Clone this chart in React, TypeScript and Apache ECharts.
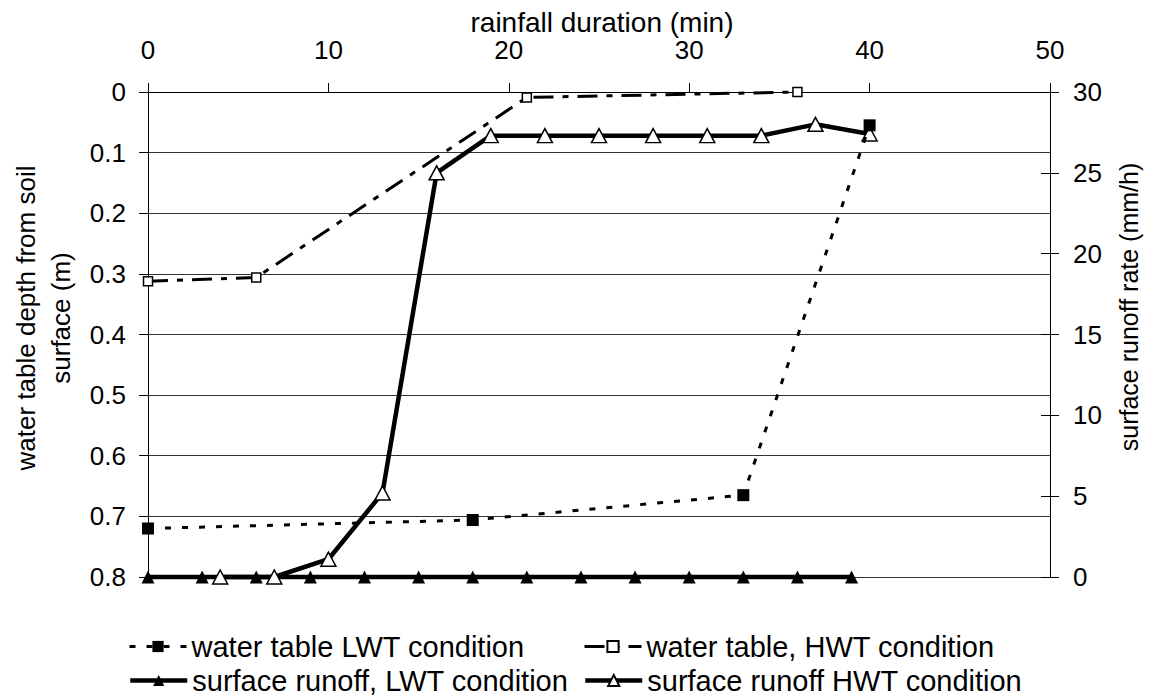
import React, { useEffect, useRef } from "react";
import * as echarts from "echarts";

// rainfall duration (min) and water table depth (m)
const wtLwtTime = [0, 18, 33, 40];
const wtLwtDepth = [0.72, 0.706, 0.665, 0.055];
const wtHwtTime = [0, 6, 21, 36];
const wtHwtDepth = [0.312, 0.306, 0.009, 0.0];
// surface runoff rate (mm/h)
const roLwtTime = [0, 3, 6, 9, 12, 15, 18, 21, 24, 27, 30, 33, 36, 39];
const roLwtRate = [0, 0, 0, 0, 0, 0, 0, 0, 0, 0, 0, 0, 0, 0];
const roHwtTime = [4, 7, 10, 13, 16, 19, 22, 25, 28, 31, 34, 37, 40];
const roHwtRate = [0, 0, 1.1, 5.2, 25, 27.3, 27.3, 27.3, 27.3, 27.3, 27.3, 28, 27.4];

const seriesNames = [
  "water table LWT condition",
  "water table, HWT condition",
  "surface runoff, LWT condition",
  "surface runoff HWT condition",
];
const xTitle = "rainfall duration (min)";
const yLeftTitle = "water table depth from soil\nsurface (m)";
const yRightTitle = "surface runoff rate (mm/h)";

const zip = (a: number[], b: number[]) => a.map((v, i) => [v, b[i]]);

const FONT = "Liberation Sans, Arial, sans-serif";

export default function App() {
  const ref = useRef<HTMLDivElement>(null);
  useEffect(() => {
    document.body.style.margin = "0";
    const chart = echarts.init(ref.current!, null, { renderer: "svg" });
    const tick = { fontFamily: FONT, fontSize: 26, color: "#000" };
    const legendText = { fontFamily: FONT, fontSize: 29, color: "#000" };
    const legendBase = {
      orient: "horizontal",
      itemHeight: 14,
      itemWidth: 57,
      itemGap: 0,
      textStyle: legendText,
      selectedMode: false,
      padding: 0,
    };
    const lineWidths = [3, 3, 4.5, 4.5];
    const legendItem = (i: number) => ({
      name: seriesNames[i],
      lineStyle: { width: lineWidths[i] },
    });
    chart.setOption({
      animation: false,
      backgroundColor: "#fff",
      grid: { left: 148, right: 101, top: 92, bottom: 121, containLabel: false },
      xAxis: {
        type: "value",
        position: "top",
        min: 0,
        max: 50,
        interval: 10,
        axisLine: { show: true, lineStyle: { color: "#000", width: 1 } },
        axisTick: { show: true, length: 9, lineStyle: { color: "#000" } },
        axisLabel: { ...tick, margin: 29 },
        splitLine: { show: false },
      },
      yAxis: [
        {
          type: "value",
          position: "left",
          inverse: true,
          min: 0,
          max: 0.8,
          interval: 0.1,
          axisLine: { show: true, lineStyle: { color: "#000", width: 1 } },
          axisTick: { show: true, length: 9, lineStyle: { color: "#000" } },
          axisLabel: {
            ...tick,
            margin: 22,
            formatter: (v: number) => String(+v.toFixed(1)),
          },
          splitLine: { show: true, lineStyle: { color: "#333", width: 1 } },
        },
        {
          type: "value",
          position: "right",
          min: 0,
          max: 30,
          interval: 5,
          axisLine: { show: true, lineStyle: { color: "#000", width: 1 } },
          axisTick: { show: true, length: 9, lineStyle: { color: "#000" } },
          axisLabel: { ...tick, margin: 23 },
          splitLine: { show: false },
        },
        {
          type: "value",
          position: "right",
          min: 0,
          max: 30,
          interval: 5,
          axisLine: { show: false },
          axisTick: { show: true, inside: true, length: 9, lineStyle: { color: "#000" } },
          axisLabel: { show: false },
          splitLine: { show: false },
        },
      ],
      graphic: [
        {
          type: "text",
          x: 602,
          y: 22,
          style: {
            text: xTitle,
            font: `28px ${FONT}`,
            fill: "#000",
            textAlign: "center",
            textVerticalAlign: "middle",
          },
        },
        {
          type: "text",
          x: 43,
          y: 318,
          rotation: Math.PI / 2,
          style: {
            text: yLeftTitle,
            font: `26px ${FONT}`,
            lineHeight: 35,
            fill: "#000",
            textAlign: "center",
            textVerticalAlign: "middle",
          },
        },
        {
          type: "text",
          x: 1129,
          y: 307,
          rotation: Math.PI / 2,
          style: {
            text: yRightTitle,
            font: `25px ${FONT}`,
            fill: "#000",
            textAlign: "center",
            textVerticalAlign: "middle",
          },
        },
      ],
      legend: [
        { ...legendBase, left: 128, top: 632, data: [legendItem(0)] },
        { ...legendBase, left: 583, top: 632, data: [legendItem(1)] },
        { ...legendBase, left: 128, top: 666, data: [legendItem(2)] },
        { ...legendBase, left: 583, top: 666, data: [legendItem(3)] },
      ],
      series: [
        {
          name: seriesNames[0],
          type: "line",
          xAxisIndex: 0,
          yAxisIndex: 0,
          data: zip(wtLwtTime, wtLwtDepth),
          symbol: "rect",
          symbolSize: 12,
          itemStyle: { color: "#000", borderColor: "#000", borderWidth: 0 },
          lineStyle: { color: "#000", width: lineWidths[0], type: [6, 11] },
          clip: false,
          z: 3,
        },
        {
          name: seriesNames[1],
          type: "line",
          xAxisIndex: 0,
          yAxisIndex: 0,
          data: zip(wtHwtTime, wtHwtDepth),
          symbol: "rect",
          symbolSize: 9,
          itemStyle: { color: "#fff", borderColor: "#000", borderWidth: 1.5 },
          lineStyle: { color: "#000", width: lineWidths[1], type: [20, 9, 6, 9] },
          clip: false,
          z: 3,
        },
        {
          name: seriesNames[2],
          type: "line",
          xAxisIndex: 0,
          yAxisIndex: 1,
          data: zip(roLwtTime, roLwtRate),
          symbol: "triangle",
          symbolSize: [13, 13],
          itemStyle: { color: "#000", borderColor: "#000", borderWidth: 0 },
          lineStyle: { color: "#000", width: lineWidths[2], type: "solid" },
          clip: false,
          z: 2,
        },
        {
          name: seriesNames[3],
          type: "line",
          xAxisIndex: 0,
          yAxisIndex: 1,
          data: zip(roHwtTime, roHwtRate),
          symbol: "triangle",
          symbolSize: [15, 14],
          itemStyle: { color: "#fff", borderColor: "#000", borderWidth: 1.5 },
          lineStyle: { color: "#000", width: lineWidths[3], type: "solid" },
          clip: false,
          z: 2,
        },
      ],
    });
    return () => chart.dispose();
  }, []);
  return <div ref={ref} style={{ width: 1151, height: 698 }} />;
}
